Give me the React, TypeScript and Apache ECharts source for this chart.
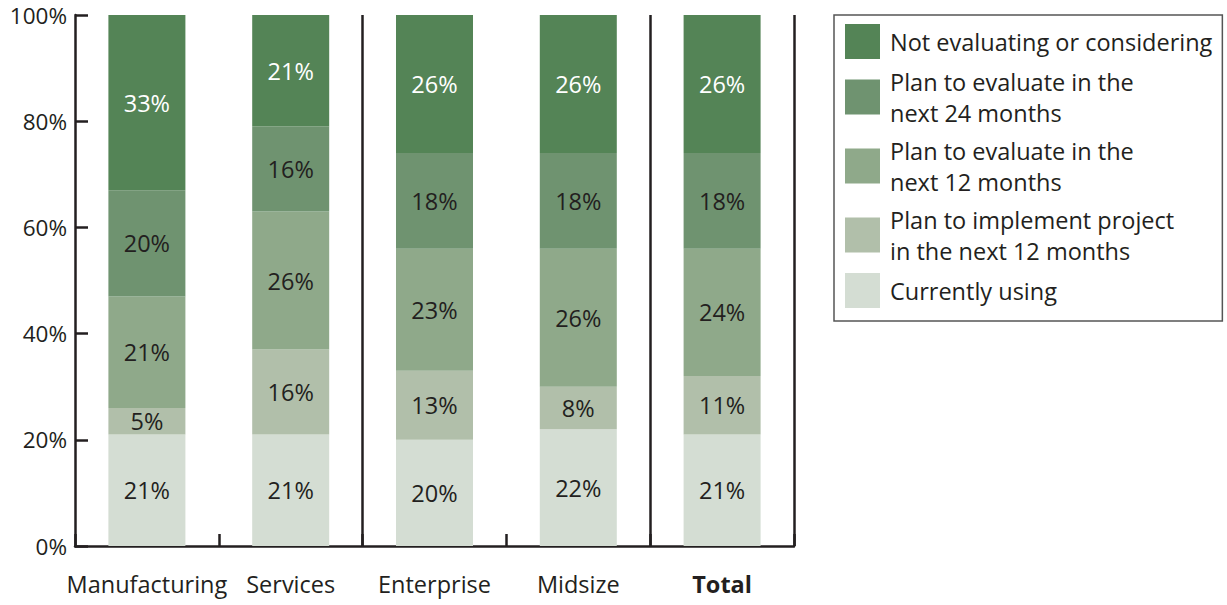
import React, { useEffect, useRef } from "react";
import * as echarts from "echarts";

const categories = ["Manufacturing", "Services", "Enterprise", "Midsize", "Total"];
const seriesNames = [
  "Currently using",
  "Plan to implement project\nin the next 12 months",
  "Plan to evaluate in the\nnext 12 months",
  "Plan to evaluate in the\nnext 24 months",
  "Not evaluating or considering",
];
const currentlyUsing = [21, 21, 20, 22, 21];
const planImplement = [5, 16, 13, 8, 11];
const planEval12 = [21, 26, 23, 26, 24];
const planEval24 = [20, 16, 18, 18, 18];
const notEvaluating = [33, 21, 26, 26, 26];
const seriesValues = [currentlyUsing, planImplement, planEval12, planEval24, notEvaluating];
const colors = ["#d4ddd3", "#b1bfaa", "#8fa98a", "#6f9370", "#548456"];
const labelColors = ["#231f20", "#231f20", "#231f20", "#231f20", "#ffffff"];
const yTicks = [0, 20, 40, 60, 80, 100];

const FONT = "'Open Sans', sans-serif";
const INK = "#231f20";

export default function App() {
  const ref = useRef<HTMLDivElement>(null);
  useEffect(() => {
    const chart = echarts.init(ref.current!, null, { renderer: "svg" });
    chart.setOption({
      animation: false,
      textStyle: { fontFamily: FONT },
      grid: { left: 75, top: 15, right: 433, bottom: 59, containLabel: false },
      legend: {
        orient: "vertical",
        left: 834,
        top: 15,
        padding: [9, 10, 13, 11],
        borderColor: "#555555",
        borderWidth: 1.5,
        itemWidth: 35,
        itemHeight: 35,
        itemGap: 7,
        icon: "rect",
        data: seriesNames.slice().reverse(),
        textStyle: { fontFamily: FONT, fontSize: 23.5, color: INK, lineHeight: 31, padding: [0, 0, 0, 5] },
      },
      xAxis: {
        type: "category",
        data: categories,
        axisLine: { lineStyle: { color: INK, width: 2.5 } },
        axisTick: { show: true, inside: true, length: 12, interval: 0, lineStyle: { color: INK, width: 2.5 } },
        splitLine: {
          show: true,
          interval: (i: number) => i === 2 || i === 4,
          lineStyle: { color: INK, width: 2.5 },
        },
        axisLabel: {
          interval: 0,
          margin: 26,
          fontSize: 23.5,
          color: INK,
          fontFamily: FONT,
          formatter: (v: string) => (v === "Total" ? "{b|" + v + "}" : v),
          rich: { b: { fontWeight: "bold", fontSize: 23.5, color: INK, fontFamily: FONT } },
        },
      },
      yAxis: {
        type: "value",
        min: 0,
        max: 100,
        interval: 20,
        axisLine: { show: true, lineStyle: { color: INK, width: 2.5 } },
        axisTick: { show: true, inside: true, length: 13, lineStyle: { color: INK, width: 2.5 } },
        splitLine: { show: false },
        axisLabel: {
          fontSize: 22.5,
          color: INK,
          margin: 8,
          fontFamily: FONT,
          formatter: (v: number) => (yTicks.includes(v) ? v + "%" : ""),
        },
      },
      series: seriesNames.map((name, i) => ({
        name,
        type: "bar",
        stack: "all",
        barWidth: 77,
        itemStyle: { color: colors[i] },
        label: {
          show: true,
          position: "inside",
          formatter: "{c}%",
          fontSize: 23.5,
          color: labelColors[i],
          fontFamily: FONT,
        },
        data: seriesValues[i],
      })),
    });
    return () => chart.dispose();
  }, []);
  return <div ref={ref} style={{ width: 1227, height: 605, position: "absolute", left: 0, top: 0 }} />;
}
